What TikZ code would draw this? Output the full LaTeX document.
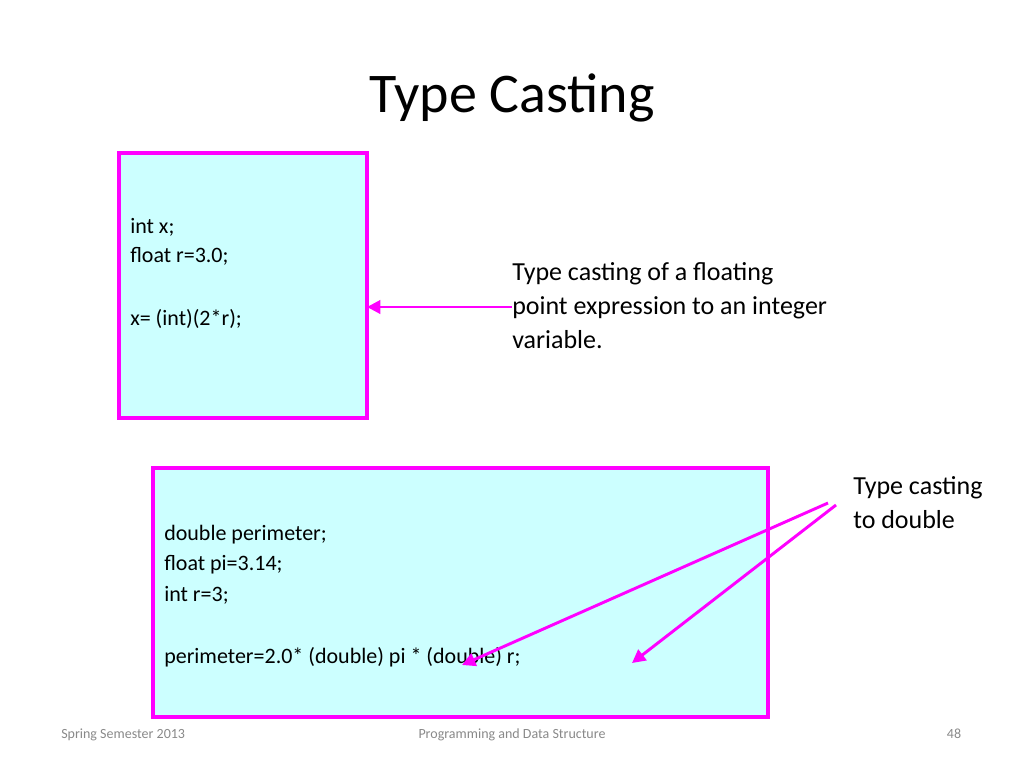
\documentclass[tikz,border=0pt]{standalone}
\usepackage{fontspec}
\setmainfont{Carlito}
\usetikzlibrary{arrows.meta}
\definecolor{boxfill}{RGB}{204,255,255}
\definecolor{pink}{RGB}{255,0,255}
\definecolor{foot}{RGB}{137,137,137}
\tikzset{
  codebox/.style={draw=pink,line width=3pt,fill=boxfill},
  code/.style={anchor=base west,inner sep=0pt,font=\fontsize{16.5}{20}\selectfont},
  note/.style={anchor=base west,inner sep=0pt,font=\fontsize{19.5}{24}\selectfont},
  footer/.style={anchor=base,inner sep=0pt,text=foot,font=\fontsize{10.5}{12}\selectfont},
  pointer/.style={draw=pink,line width=2.2pt,-{Triangle[length=10pt,width=10pt]}}
}
\begin{document}
\begin{tikzpicture}[x=0.75pt,y=-0.75pt]
  \useasboundingbox (0,0) rectangle (1024,768);
  \node[inner sep=0pt,font=\fontsize{42}{48}\selectfont] (title) at (512,98) {Type Casting};
  % upper box
  \draw[codebox] (119,153) rectangle (367,418);
  \coordinate (boxA) at (367,307);
  \node[code] (a1) at (130,233) {int x;};
  \node[code] (a2) at (130,262) {float r=3.0;};
  \node[code] (a3) at (130,325) {x= (int)(2*r);};
  \node[note] (n1) at (512,280) {Type casting of a floating};
  \node[note] (n2) at (512,314) {point expression to an integer};
  \node[note] (n3) at (512,348) {variable.};
  \coordinate (startA) at (512,307);
  \draw[pointer] (startA) -- (boxA);
  % lower box
  \draw[codebox] (153,468) rectangle (768,717);
  \node[code] (b1) at (164,540) {double perimeter;};
  \node[code] (b2) at (164,570) {float pi=3.14;};
  \node[code] (b3) at (164,601) {int r=3;};
  \node[code] (b4) at (164,663) {perimeter=2.0* (double) pi * (double) r;};
  \node[note] (m1) at (853,494) {Type casting};
  \node[note] (m2) at (853,528) {to double};
  \coordinate (s1) at (828,503);
  \coordinate (s2) at (836,505);
  \coordinate (e1) at (462,665);
  \coordinate (e2) at (632,663);
  \draw[pointer] (s1) -- (e1);
  \draw[pointer] (s2) -- (e2);
  % footer
  \node[footer,anchor=base west] (f1) at (61,738) {Spring Semester 2013};
  \node[footer] (f2) at (512,738) {Programming and Data Structure};
  \node[footer] (f3) at (954,738) {48};
\end{tikzpicture}
\end{document}
